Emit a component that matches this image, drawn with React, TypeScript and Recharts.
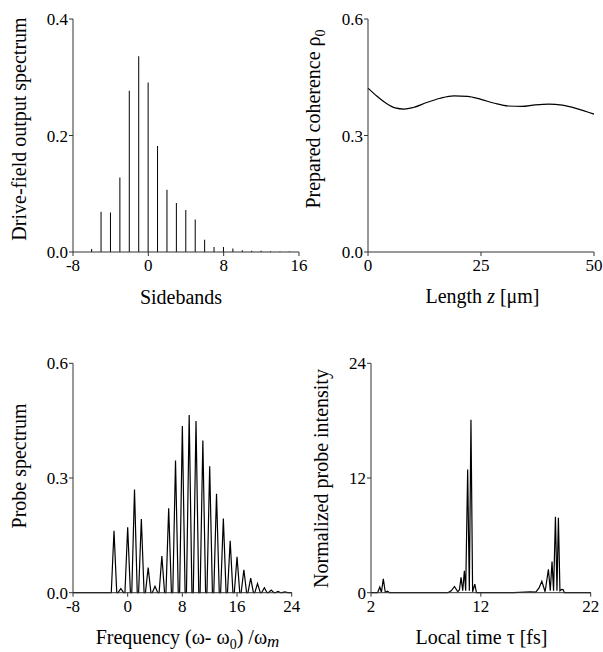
import React from "react";
import { BarChart, Bar, LineChart, Line, XAxis, YAxis, Label } from "recharts";

// top-left: drive-field sidebands
const sidebands = [-6, -5, -4, -3, -2, -1, 0, 1, 2, 3, 4, 5, 6, 7, 8, 9, 10, 11, 12, 13, 14, 15];
const drivePower = [
  0.005, 0.069, 0.068, 0.128, 0.277, 0.336, 0.291, 0.182, 0.107, 0.084, 0.072,
  0.056, 0.021, 0.0086, 0.0086, 0.006, 0.003, 0.002, 0.002, 0.0015, 0.001, 0.001,
];

// top-right: prepared coherence vs length
const lengthZ = [0, 2, 4, 6, 8, 10, 13, 16, 19, 22, 25, 28, 31, 34, 37, 40, 43, 46, 50];
const coherence = [
  0.422, 0.401, 0.383, 0.371, 0.368, 0.372, 0.385, 0.396, 0.402, 0.401, 0.393,
  0.383, 0.376, 0.375, 0.379, 0.381, 0.378, 0.370, 0.355,
];

// bottom-left: probe spectrum peaks
const probeFreq = [-2, -1, 0, 1, 2, 3, 4, 5, 6, 7, 8, 9, 10, 11, 12, 13, 14, 15, 16, 17, 18, 19, 20, 21, 22, 23];
const probeSpec = [
  0.162, 0.011, 0.171, 0.27, 0.193, 0.066, 0.017, 0.096, 0.221, 0.346, 0.436,
  0.465, 0.449, 0.398, 0.331, 0.259, 0.194, 0.136, 0.094, 0.06, 0.038, 0.024,
  0.013, 0.007, 0.0035, 0.002,
];

// bottom-right: probe intensity vs local time
const localTime = [
  2, 2.6, 2.8, 2.95, 3.12, 3.3, 3.5, 3.7, 9.0, 9.3, 9.6, 9.9, 10.05, 10.2, 10.35,
  10.5, 10.62, 10.8, 10.95, 11.1, 11.25, 11.45, 11.6, 15.0, 16.5, 17.0, 17.3,
  17.55, 17.85, 18.15, 18.32, 18.48, 18.62, 18.79, 18.93, 19.06, 19.2, 19.37,
  19.5, 19.6, 22,
];
const probeIntensity = [
  0, 0, 0.6, 0.05, 1.45, 0.05, 0.15, 0, 0, 0.2, 0.65, 0.1, 0.3, 1.6, 0.2, 2.3,
  0.2, 12.9, 0.2, 18.1, 0.1, 0.9, 0, 0, 0.1, 0.05, 0.5, 1.2, 0.1, 2.45, 0.2,
  3.25, 0.2, 7.95, 0.2, 7.85, 0.2, 0.35, 0.3, 0, 0,
];

const serif = "Liberation Serif";
const axisColor = "#333";
const tickStyle = { fill: "#000", fontSize: 17, fontFamily: serif };

const driveData = sidebands.map((s, i) => ({ x: s, y: drivePower[i] }));
const coherenceData = lengthZ.map((z, i) => ({ x: z, y: coherence[i] }));
const probeData = [{ x: -8, y: 0 }];
probeFreq.forEach((f, i) => {
  probeData.push({ x: f - 0.4, y: 0 }, { x: f, y: probeSpec[i] }, { x: f + 0.4, y: 0 });
});
probeData.push({ x: 24, y: 0 });
const intensityData = localTime.map((t, i) => ({ x: t, y: probeIntensity[i] }));

const yTitle = (x: number, y: number, body: React.ReactNode) => () => (
  <text
    x={x}
    y={y}
    transform={`rotate(-90 ${x} ${y})`}
    textAnchor="middle"
    fontFamily={serif}
    fontSize={20}
    fill="#000"
  >
    {body}
  </text>
);

const xTitle = (x: number, y: number, body: React.ReactNode) => () => (
  <text x={x} y={y} textAnchor="middle" fontFamily={serif} fontSize={20} fill="#000">
    {body}
  </text>
);

const axisProps = {
  axisLine: { stroke: axisColor },
  tickLine: { stroke: axisColor },
  tick: tickStyle,
  tickSize: 4,
  interval: 0 as const,
};

const box = (left: number, top: number): React.CSSProperties => ({
  position: "absolute",
  left,
  top,
  fontFamily: serif,
});

export default function App() {
  return (
    <div style={{ position: "absolute", left: 0, top: 0, width: 603, height: 652, background: "#fff" }}>
      <div style={box(0, 0)}>
        <BarChart width={310} height={320} data={driveData} margin={{ top: 19, right: 11, left: 0, bottom: 0 }}>
          <XAxis
            dataKey="x"
            type="number"
            domain={[-8, 16]}
            ticks={[-8, 0, 8, 16]}
            height={68}
            tickMargin={3}
            {...axisProps}
          >
            <Label content={xTitle(181, 304, "Sidebands")} />
          </XAxis>
          <YAxis
            type="number"
            domain={[0, 0.4]}
            ticks={[0, 0.2, 0.4]}
            width={73}
            tickMargin={1}
            tickFormatter={(v: number) => v.toFixed(1)}
            {...axisProps}
          >
            <Label content={yTitle(26, 129, "Drive-field output spectrum")} />
          </YAxis>
          <Bar dataKey="y" fill="#000" barSize={1} isAnimationActive={false} />
        </BarChart>
      </div>

      <div style={box(300, 0)}>
        <LineChart width={303} height={320} data={coherenceData} margin={{ top: 19, right: 9, left: 0, bottom: 0 }}>
          <XAxis
            dataKey="x"
            type="number"
            domain={[0, 50]}
            ticks={[0, 25, 50]}
            height={68}
            tickMargin={3}
            {...axisProps}
          >
            <Label
              content={xTitle(182.5, 303, (
                <>
                  <tspan>Length </tspan>
                  <tspan fontStyle="italic">z</tspan>
                  <tspan> [μm]</tspan>
                </>
              ))}
            />
          </XAxis>
          <YAxis
            type="number"
            domain={[0, 0.6]}
            ticks={[0, 0.3, 0.6]}
            width={68}
            tickMargin={1}
            tickFormatter={(v: number) => v.toFixed(1)}
            {...axisProps}
          >
            <Label
              content={yTitle(20, 119, (
                <>
                  <tspan>Prepared coherence ρ</tspan>
                  <tspan dy={5} fontSize={14}>0</tspan>
                </>
              ))}
            />
          </YAxis>
          <Line
            dataKey="y"
            type="monotone"
            stroke="#000"
            strokeWidth={1.2}
            dot={false}
            isAnimationActive={false}
          />
        </LineChart>
      </div>

      <div style={box(0, 320)}>
        <LineChart width={310} height={332} data={probeData} margin={{ top: 43.3, right: 18.3, left: 0, bottom: 0 }}>
          <XAxis
            dataKey="x"
            type="number"
            domain={[-8, 24]}
            ticks={[-8, 0, 8, 16, 24]}
            height={59.3}
            tickMargin={3}
            {...axisProps}
          >
            <Label
              content={xTitle(187.5, 324, (
                <>
                  <tspan>Frequency (ω- ω</tspan>
                  <tspan dy={5} fontSize={14}>0</tspan>
                  <tspan dy={-5}>) /ω</tspan>
                  <tspan dy={3} fontStyle="italic" fontSize={17}>m</tspan>
                </>
              ))}
            />
          </XAxis>
          <YAxis
            type="number"
            domain={[0, 0.6]}
            ticks={[0, 0.3, 0.6]}
            width={73}
            tickMargin={1}
            tickFormatter={(v: number) => v.toFixed(1)}
            {...axisProps}
          >
            <Label content={yTitle(26, 146, "Probe spectrum")} />
          </YAxis>
          <Line
            dataKey="y"
            type="linear"
            stroke="#000"
            strokeWidth={1.2}
            dot={false}
            isAnimationActive={false}
          />
        </LineChart>
      </div>

      <div style={box(300, 320)}>
        <LineChart width={303} height={332} data={intensityData} margin={{ top: 43.3, right: 12.3, left: 0, bottom: 0 }}>
          <XAxis
            dataKey="x"
            type="number"
            domain={[2, 22]}
            ticks={[2, 12, 22]}
            height={59.3}
            tickMargin={3}
            {...axisProps}
          >
            <Label content={xTitle(181.5, 324, "Local time  τ [fs]")} />
          </XAxis>
          <YAxis
            type="number"
            domain={[0, 24]}
            ticks={[0, 12, 24]}
            width={71}
            tickMargin={1}
            {...axisProps}
          >
            <Label content={yTitle(28, 158.5, "Normalized probe intensity")} />
          </YAxis>
          <Line
            dataKey="y"
            type="linear"
            stroke="#000"
            strokeWidth={1.2}
            dot={false}
            isAnimationActive={false}
          />
        </LineChart>
      </div>
    </div>
  );
}
